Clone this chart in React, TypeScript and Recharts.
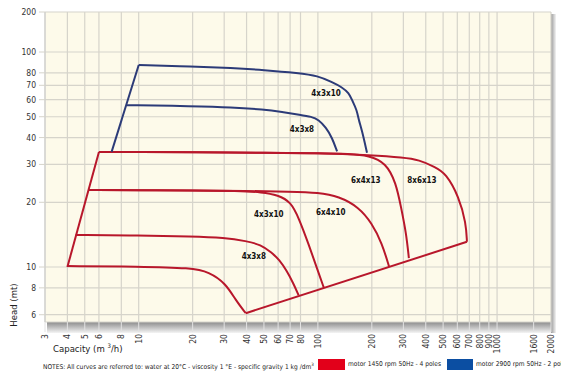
import { ComposedChart, Line, XAxis, YAxis, CartesianGrid, ReferenceDot } from 'recharts';

// capacity (m3/h) and head (m), log-log chart
// red = motor 1450 rpm, blue = motor 2900 rpm

const redEdgeQ = [4, 6];
const redEdgeH = [10, 34.3];

const redBaseQ = [39.6, 679];
const redBaseH = [6.1, 13.1];

const red1Q = [4, 10, 19.8, 24.6, 30.6, 34.8, 39.6];
const red1H = [10.1, 10.05, 9.9, 9.5, 8.4, 7.0, 6.1];

const red2Q = [4.45, 10, 20, 30, 40, 48, 55, 61, 67, 73, 78];
const red2H = [14.1, 14.0, 13.9, 13.7, 13.2, 12.7, 11.7, 10.8, 9.6, 8.4, 7.4];

const red3aQ = [5.26, 10, 20, 36, 48.7, 60, 70.6, 78.3, 89, 100, 108];
const red3aH = [22.8, 22.8, 22.7, 22.6, 22.3, 21.6, 20.1, 16.9, 12.7, 9.6, 8.0];

const red3bQ = [5.26, 10, 20, 40, 70, 101, 131, 169, 200, 228, 250];
const red3bH = [22.8, 22.8, 22.7, 22.6, 22.4, 22.2, 21.3, 19.0, 16.0, 12.9, 10.0];

const red4aQ = [6, 10, 20, 50, 100, 150, 193, 240, 273, 291, 311, 322];
const red4aH = [34.3, 34.3, 34.2, 34.0, 33.8, 33.6, 33.0, 30.5, 24.6, 19.0, 14.4, 11.0];

const red4bQ = [6, 10, 20, 50, 100, 200, 300, 367, 450, 518, 613, 671, 679];
const red4bH = [34.3, 34.3, 34.2, 34.0, 33.9, 33.1, 32.3, 31.5, 29.2, 27.3, 21.2, 16.0, 13.1];

const blueEdgeQ = [7.06, 10];
const blueEdgeH = [34.3, 87];

const blueMaxQ = [10, 20, 33, 50, 78, 100, 120, 136, 149, 155, 165, 169, 176, 188];
const blueMaxH = [87, 85.5, 84.3, 82.5, 79.8, 77.5, 72.4, 68.7, 64.4, 59.8, 53.7, 48.3, 43.4, 34];

const blueMinQ = [8.57, 20, 33, 50, 63, 80, 92, 101, 111, 120, 128];
const blueMinH = [56.6, 56, 55.4, 54, 52.6, 51, 50, 48.5, 44.5, 40, 34.5];

const labelNames = ['4x3x10', '4x3x8', '4x3x10', '4x3x8', '6x4x10', '6x4x13', '8x6x13'];
const labelQ = [111, 81.5, 53.2, 43.9, 118, 185, 381];
const labelH = [64.4, 43.9, 17.6, 11.2, 18.0, 25.4, 25.4];

const X_TICKS = [3, 4, 5, 6, 8, 10, 20, 30, 40, 50, 60, 70, 80, 100, 200, 300, 400, 500, 600, 700, 800, 900, 1000, 1600, 2000];
const HEAD_TICKS = [6, 8, 10, 20, 30, 40, 50, 60, 70, 80, 100, 200];

const RED = '#b8172b';
const BLUE = '#2c3b78';
const FONT = '"Liberation Sans Narrow", "DejaVu Sans Condensed", sans-serif';

// head axis: log up to 100, the 100-200 decade is squeezed like in the catalogue
const tY = (v: number) => (v <= 100 ? Math.log10(v) : 2 + (Math.log10(v) - 2) * 0.618);

const series = (q: number[], h: number[]) => q.map((v, i) => ({ q: v, h: tY(h[i]) }));

const curves = [
  { key: 'redEdge', d: series(redEdgeQ, redEdgeH), c: RED, t: 'linear' },
  { key: 'redBase', d: series(redBaseQ, redBaseH), c: RED, t: 'linear' },
  { key: 'red1', d: series(red1Q, red1H), c: RED, t: 'basis' },
  { key: 'red2', d: series(red2Q, red2H), c: RED, t: 'basis' },
  { key: 'red3a', d: series(red3aQ, red3aH), c: RED, t: 'basis' },
  { key: 'red3b', d: series(red3bQ, red3bH), c: RED, t: 'basis' },
  { key: 'red4a', d: series(red4aQ, red4aH), c: RED, t: 'basis' },
  { key: 'red4b', d: series(red4bQ, red4bH), c: RED, t: 'basis' },
  { key: 'blueEdge', d: series(blueEdgeQ, blueEdgeH), c: BLUE, t: 'linear' },
  { key: 'blueMax', d: series(blueMaxQ, blueMaxH), c: BLUE, t: 'basis' },
  { key: 'blueMin', d: series(blueMinQ, blueMinH), c: BLUE, t: 'basis' },
];

const headLabel = (t: number) => {
  let best = HEAD_TICKS[0];
  HEAD_TICKS.forEach((v) => {
    if (Math.abs(tY(v) - t) < Math.abs(tY(best) - t)) best = v;
  });
  return String(best);
};

const XTick = (props: any) => {
  const { x, y, payload } = props;
  return (
    <text
      x={x}
      y={y}
      transform={`rotate(-90 ${x} ${y})`}
      textAnchor="end"
      dominantBaseline="central"
      fontSize={8.5}
      fontFamily={FONT}
      fill="#333"
    >
      {payload.value}
    </text>
  );
};

export default function App() {
  return (
    <div style={{ position: 'absolute', left: 0, top: 0, width: 561, height: 382, background: '#fff', fontFamily: FONT, overflow: 'hidden' }}>
      {/* shadow under and right of the plot */}
      <div style={{ position: 'absolute', left: 47, top: 322, width: 506, height: 11, background: 'linear-gradient(#8c8c8c, #f4f4f4)' }} />
      <div style={{ position: 'absolute', left: 551, top: 14, width: 5, height: 319, background: 'linear-gradient(to right, #9a9a9a, #f4f4f4)' }} />

      <div style={{ position: 'absolute', left: 0, top: 0 }}>
        <ComposedChart width={561} height={382} margin={{ top: 12, right: 10, bottom: 0, left: 0 }}>
          <CartesianGrid fill="#fdfaea" stroke="#d6d4cb" strokeWidth={1.2} strokeDasharray="" />
          <XAxis
            dataKey="q"
            type="number"
            scale="log"
            domain={[3, 2000]}
            ticks={X_TICKS}
            allowDataOverflow
            height={60}
            tick={<XTick />}
            tickSize={10}
            tickMargin={2}
            tickLine={{ stroke: '#e2e2e2' }}
            axisLine={false}
            interval={0}
          />
          <YAxis
            type="number"
            domain={[tY(5.55), tY(200)]}
            ticks={HEAD_TICKS.map(tY)}
            tickFormatter={headLabel}
            allowDataOverflow
            width={45}
            tickSize={6}
            tickMargin={3}
            tickLine={{ stroke: '#d6d4cb' }}
            axisLine={{ stroke: '#cfcfcf' }}
            tick={{ fontSize: 8.5, fill: '#333', fontFamily: FONT }}
            interval={0}
          />
          {curves.map((s) => (
            <Line
              key={s.key}
              data={s.d}
              dataKey="h"
              type={s.t as any}
              stroke={s.c}
              strokeWidth={2}
              dot={false}
              activeDot={false}
              isAnimationActive={false}
            />
          ))}
          {labelNames.map((name, i) => (
            <ReferenceDot
              key={i}
              x={labelQ[i]}
              y={tY(labelH[i])}
              r={0}
              fill="none"
              stroke="none"
              ifOverflow="visible"
              label={{ value: name, position: 'center', fontSize: 8, fontWeight: 'bold', fill: '#111', fontFamily: FONT }}
            />
          ))}
        </ComposedChart>
      </div>

      <div style={{ position: 'absolute', left: 4, top: 305, transform: 'translate(0, -50%) rotate(-90deg)', transformOrigin: 'center', fontSize: 9.5, color: '#222', whiteSpace: 'nowrap', width: 20, textAlign: 'center', lineHeight: '10px' }}>
        <span style={{ display: 'inline-block', marginLeft: -20, width: 60 }}>Head (mt)</span>
      </div>

      <div style={{ position: 'absolute', left: 53, top: 342, fontSize: 9.5, color: '#222', whiteSpace: 'nowrap' }}>
        Capacity (m <sup style={{ fontSize: 6 }}>3</sup>/h)
      </div>

      <div style={{ position: 'absolute', left: 43, top: 362, fontSize: 6.6, color: '#222', whiteSpace: 'nowrap' }}>
        NOTES: All curves are referred to: water at 20°C - viscosity 1 °E - specific gravity 1 kg /dm<sup style={{ fontSize: 4.5 }}>3</sup>
      </div>

      <div style={{ position: 'absolute', left: 318, top: 359, width: 27, height: 11, background: '#e2001a' }} />
      <div style={{ position: 'absolute', left: 348, top: 360, fontSize: 6.6, color: '#222', whiteSpace: 'nowrap' }}>
        motor 1450 rpm 50Hz - 4 poles
      </div>
      <div style={{ position: 'absolute', left: 447, top: 359, width: 26, height: 11, background: '#0b4ea2' }} />
      <div style={{ position: 'absolute', left: 476, top: 360, fontSize: 6.6, color: '#222', whiteSpace: 'nowrap' }}>
        motor 2900 rpm 50Hz - 2 poles
      </div>
    </div>
  );
}
